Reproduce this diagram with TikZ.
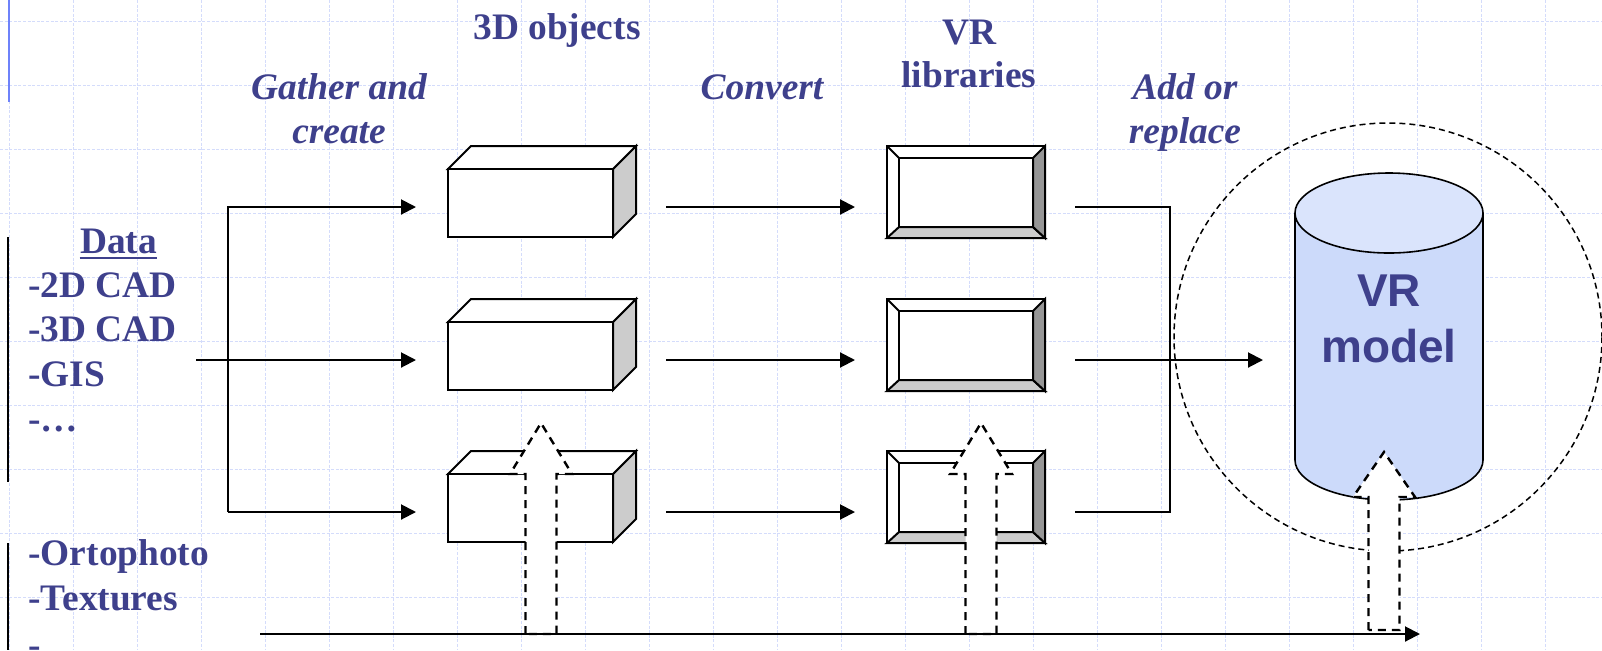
\documentclass[tikz,border=0pt]{standalone}
\usepackage{fontspec}
\setmainfont{Liberation Serif}
\newfontfamily\arialfont{Liberation Sans}
\usetikzlibrary{arrows.meta}

\definecolor{txtblue}{RGB}{62,64,140}
\definecolor{shade}{RGB}{204,204,204}
\definecolor{darkshade}{RGB}{150,150,150}
\definecolor{cylbody}{RGB}{204,218,250}
\definecolor{cyltop}{RGB}{218,228,252}
\definecolor{gridblue}{RGB}{212,220,251}
\definecolor{markblue}{RGB}{110,130,250}

\tikzset{
  lbl/.style={text=txtblue,inner sep=0pt,anchor=base,font=\fontsize{18.7}{22}\selectfont\bfseries},
  act/.style={lbl,font=\fontsize{18.7}{22}\selectfont\bfseries\itshape},
  face/.style={draw=black,line width=1pt},
  flow/.style={line width=1pt,-{Triangle[length=7.5pt,width=7.5pt]}},
  feed/.style={draw=black,fill=white,line width=1.2pt,dash pattern=on 4pt off 3pt},
  ring/.style={line width=0.75pt,dash pattern=on 3pt off 2pt},
  gridline/.style={gridblue,line width=0.5pt,dash pattern=on 1.5pt off 0.8pt}
}

\begin{document}
\begin{tikzpicture}[x=0.5pt,y=-0.5pt]
\useasboundingbox (0,0) rectangle (1602,650);
\clip (0,0) rectangle (1602,650);

%Grid
\foreach \gx in {9,73,...,1600} \draw[gridline] (\gx,0) -- (\gx,650);
\foreach \gy in {21,85,...,650} \draw[gridline] (0,\gy) -- (1602,\gy);

% side marks
\draw[markblue,line width=1pt] (9,0) -- (9,102);
\draw[line width=1pt] (8,237) -- (8,482);
\draw[line width=1pt] (8,543) -- (8,650);

% Titles
\node[lbl] (objtitle) at (557,39) {3D objects};
\node[lbl] (libtitle1) at (969,44) {VR};
\node[lbl] (libtitle2) at (969,87) {libraries};
\node[act] (gather1) at (339,99) {Gather and};
\node[act] (gather2) at (339,143) {create};
\node[act] (convert) at (762,99) {Convert};
\node[act] (add1) at (1185,99) {Add or};
\node[act] (add2) at (1185,143) {replace};

% Data
\node[lbl] (data) at (118.5,253) {Data};
\draw[txtblue,line width=1.2pt] ([yshift=-2.5pt]data.base west) -- ([yshift=-2.5pt]data.base east);
\node[lbl,anchor=base west] (cad2) at (28,297) {-2D CAD};
\node[lbl,anchor=base west] (cad3) at (28,341) {-3D CAD};
\node[lbl,anchor=base west] (gis) at (28,386) {-GIS};
\node[lbl,anchor=base west] (more1) at (28,431) {-…};
\node[lbl,anchor=base west] (ortho) at (28,565) {-Ortophoto};
\node[lbl,anchor=base west] (tex) at (28,610) {-Textures};
\node[lbl,anchor=base west] (more2) at (28,657) {-…};

% VR model
\draw[ring] (1388,337) circle [radius=214];
\draw[line width=0.8pt,fill=cylbody] (1295,213) -- (1295,460) arc[start angle=180,end angle=0,x radius=94,y radius=40] -- (1483,213);
\draw[line width=0.8pt,fill=cyltop] (1389,213) ellipse [x radius=94,y radius=40];
\node[lbl,text=txtblue,font=\arialfont\fontsize{23}{28}\selectfont\bfseries] (vr) at (1389,306) {VR};
\node[lbl,text=txtblue,font=\arialfont\fontsize{23}{28}\selectfont\bfseries] (model) at (1389,362) {model};

% Rows
\foreach \i/\y in {1/207,2/360,3/512}{
  % 3D object
  \draw[face,fill=shade] (613,\y-38) -- ++(23,-23) -- ++(0,68) -- ++(-23,23) -- cycle;
  \draw[face,fill=white] (448,\y-38) -- ++(23,-23) -- ++(165,0) -- ++(-23,23) -- cycle;
  \draw[face,fill=white] (448,\y-38) rectangle (613,\y+30);
  % VR library
  \draw[face,fill=white] (887,\y-61) rectangle (1045,\y+31);
  \draw[face,fill=shade] (887,\y+31) -- (899,\y+20) -- (1033,\y+20) -- (1045,\y+31) -- cycle;
  \draw[face,fill=darkshade] (1045,\y-61) -- (1033,\y-49) -- (1033,\y+20) -- (1045,\y+31) -- cycle;
  \draw[face] (887,\y-61) -- (899,\y-49);
  \draw[face] (899,\y-49) rectangle (1033,\y+20);
  % Convert
  \coordinate (g\i) at (416,\y);
  \coordinate (c\i) at (666,\y);
  \coordinate (l\i) at (855,\y);
  \coordinate (r\i) at (1075,\y);
  \draw[flow] (c\i) -- (l\i);
}

% Gather and create
\coordinate (src) at (196,360);
\coordinate (s1) at (228,207);
\coordinate (s3) at (228,512);
\draw[flow] (s3) -- (s1) -- (g1);
\draw[flow] (s3) -- (g3);
\draw[flow] (src) -- (g2);

% Add or replace
\coordinate (vrin) at (1263,360);
\draw[line width=1pt] (r1) -- (1170,207) -- (1170,512) -- (r3);
\draw[flow] (r2) -- (vrin);

% Textures
\foreach \ax/\tip/\hb/\bot in {541/423/474/634,981/423/474/634,1384/452/497/630}
  \draw[feed] (\ax-15.5,\bot) -- (\ax-15.5,\hb) -- (\ax-31,\hb) -- (\ax,\tip) -- (\ax+31,\hb) -- (\ax+15.5,\hb) -- (\ax+15.5,\bot) -- cycle;
\coordinate (tx) at (260,634);
\coordinate (tend) at (1420,634);
\draw[flow] (tx) -- (tend);
\end{tikzpicture}
\end{document}
